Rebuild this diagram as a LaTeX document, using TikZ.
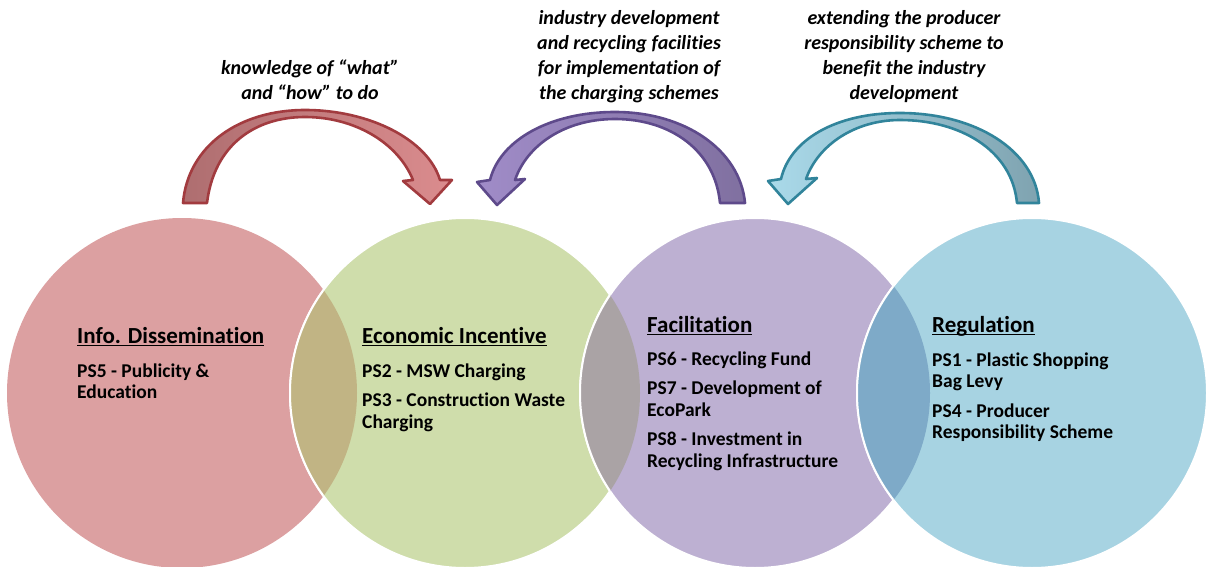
\documentclass[tikz,border=0pt]{standalone}
\usepackage{fontspec}
\setmainfont{Carlito}[RawFeature={-liga}]
\definecolor{cred}{HTML}{DCA0A1}
\definecolor{cgreen}{HTML}{CFDDAB}
\definecolor{cpurple}{HTML}{BDB0D2}
\definecolor{cblue}{HTML}{A7D3E2}
\definecolor{org}{HTML}{C1B484}
\definecolor{ogp}{HTML}{AAA3A5}
\definecolor{opb}{HTML}{7EAAC8}
\definecolor{redline}{HTML}{A23B3F}
\definecolor{reddark}{HTML}{AE6E70}
\definecolor{redlight}{HTML}{DB8C8E}
\definecolor{purline}{HTML}{5E4A8B}
\definecolor{purdark}{HTML}{8070A0}
\definecolor{purlight}{HTML}{A08CC8}
\definecolor{bluline}{HTML}{31849B}
\definecolor{bludark}{HTML}{7FA3B0}
\definecolor{blulight}{HTML}{AADAEA}
\newcommand{\myul}[1]{\setbox0\hbox{#1}\rlap{\rule[-3pt]{\wd0}{1.3pt}}\box0}
\newcommand{\bodytext}[1]{\parbox[t]{260pt}{\raggedright\bfseries\fontsize{19.5}{21.5}\selectfont #1}}
\newcommand{\arrtext}[1]{\parbox[b]{240pt}{\centering\bfseries\itshape\fontsize{20}{25}\selectfont #1}}
\tikzset{
  ttl/.style={anchor=base west, inner sep=0pt, font=\bfseries\fontsize{23}{27}\selectfont},
  bodyn/.style={anchor=base west, inner sep=0pt},
  arrn/.style={anchor=base, inner sep=0pt},
  ring/.style={white, line width=2pt},
  arrowshape/.style={line width=2.6pt, line join=round}
}
\begin{document}
\begin{tikzpicture}[x=1pt,y=-1pt]
\useasboundingbox (0,0) rectangle (1207,567);
\fill[white] (0,0) rectangle (1207,567);
% circles
\fill[cred] (182,393) circle[radius=175];
\fill[cgreen] (465,393) circle[radius=175];
\draw[ring] (465,393) circle[radius=175];
\begin{scope}
  \clip (182,393) circle[radius=175];
  \fill[org] (465,393) circle[radius=175];
  \draw[ring] (465,393) circle[radius=175];
\end{scope}
\fill[cpurple] (755,393) circle[radius=175];
\draw[ring] (755,393) circle[radius=175];
\begin{scope}
  \clip (465,393) circle[radius=175];
  \fill[ogp] (755,393) circle[radius=175];
  \draw[ring] (755,393) circle[radius=175];
\end{scope}
\fill[cblue] (1032,393) circle[radius=175];
\draw[ring] (1032,393) circle[radius=175];
\begin{scope}
  \clip (755,393) circle[radius=175];
  \fill[opb] (1032,393) circle[radius=175];
  \draw[ring] (1032,393) circle[radius=175];
\end{scope}
% arrows
\draw[arrowshape, draw=redline, left color=reddark, right color=redlight]
  (183,203) .. controls (188,145) and (240,110) .. (305,110)
  .. controls (370,110) and (428,140) .. (440,180)
  -- (452,180) -- (430,204) -- (403,181) -- (413,180)
  .. controls (398,143) and (355,117) .. (305,117)
  .. controls (255,117) and (214,145) .. (207,203) -- cycle;
\draw[arrowshape, draw=purline, left color=purlight, right color=purdark]
  (745,203) .. controls (740,150) and (685,112) .. (615,112)
  .. controls (550,112) and (500,140) .. (490,180)
  -- (477,182) -- (497,205) -- (525,179) -- (515,180)
  .. controls (527,145) and (565,119) .. (615,119)
  .. controls (670,119) and (715,150) .. (720,203) -- cycle;
\draw[arrowshape, draw=bluline, left color=blulight, right color=bludark]
  (1039,203) .. controls (1035,150) and (975,113) .. (900,113)
  .. controls (835,113) and (790,140) .. (781,179)
  -- (768,181) -- (788,204) -- (817,178) -- (806,179)
  .. controls (818,145) and (855,120) .. (900,120)
  .. controls (960,120) and (1012,150) .. (1017,203) -- cycle;
% arrow labels
\node[arrn] (l1) at (310,100) {\arrtext{knowledge of “what”\\and “how” to do}};
\node[arrn] (l2) at (629,100) {\arrtext{industry development\\and recycling facilities\\for implementation of\\the charging schemes}};
\node[arrn] (l3) at (904,100) {\arrtext{extending the producer\\responsibility scheme to\\benefit the industry\\development}};
% circle texts
\node[ttl] (t1) at (77,343) {\myul{Info. Dissemination}};
\node[bodyn] (b1) at (77,377) {\bodytext{PS5 - Publicity \&\\Education}};
\node[ttl] (t2) at (362,343) {\myul{Economic Incentive}};
\node[bodyn] (b2) at (362,377) {\bodytext{PS2 - MSW Charging\\[8pt]PS3 - Construction Waste\\Charging}};
\node[ttl] (t3) at (647,332) {\myul{Facilitation}};
\node[bodyn] (b3) at (647,365) {\bodytext{PS6 - Recycling Fund\\[8pt]PS7 - Development of\\EcoPark\\[8pt]PS8 - Investment in\\Recycling Infrastructure}};
\node[ttl] (t4) at (932,332) {\myul{Regulation}};
\node[bodyn] (b4) at (932,366) {\bodytext{PS1 - Plastic Shopping\\Bag Levy\\[8pt]PS4 - Producer\\Responsibility Scheme}};
\end{tikzpicture}
\end{document}
